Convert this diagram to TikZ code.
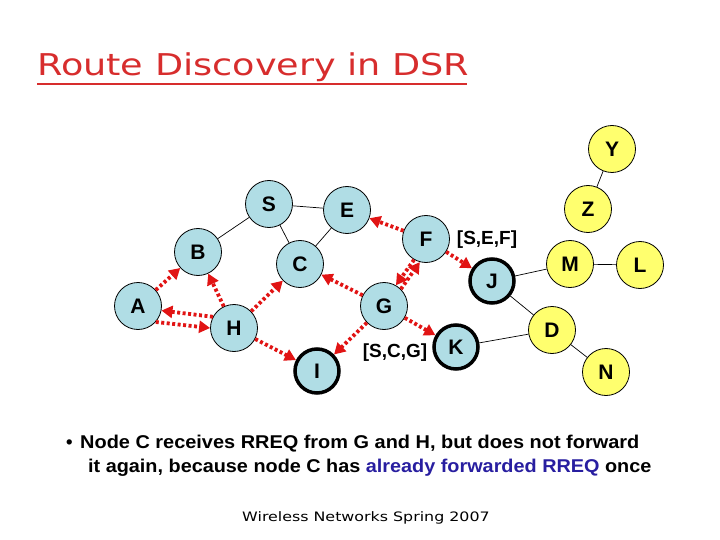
\documentclass[tikz,border=0pt]{standalone}
\usepackage{fontspec}
\setmainfont{Liberation Sans}
\newfontfamily\titlefont{DejaVu Sans}
\usetikzlibrary{arrows.meta}
\definecolor{nodeblue}{RGB}{176,221,229}
\definecolor{nodeyellow}{RGB}{255,255,110}
\definecolor{rreqred}{RGB}{225,20,20}
\definecolor{titlered}{RGB}{215,45,45}
\definecolor{textblue}{RGB}{40,30,160}
\tikzset{
  netnode/.style={circle, draw=black, line width=0.8pt, minimum size=47pt, inner sep=0pt,
    font=\fontsize{21}{24}\selectfont\bfseries},
  bnode/.style={netnode, fill=nodeblue},
  ynode/.style={netnode, fill=nodeyellow},
  thicknode/.style={line width=3.5pt, minimum size=44pt},
  link/.style={draw=black, line width=0.7pt},
  rreq/.style={draw=rreqred, line width=3.8pt, dash pattern=on 3pt off 2.5pt,
    -{Triangle[length=11pt,width=12pt]}},
  pathlabel/.style={font=\fontsize{19}{22}\selectfont\bfseries, inner sep=0pt},
  bodytext/.style={anchor=base west, inner sep=0pt, font=\fontsize{18.5}{22}\selectfont\bfseries}
}
\begin{document}
\begin{tikzpicture}[x=1pt,y=-1pt]
\useasboundingbox (0,0) rectangle (720,540);
% title
\node[anchor=base west, inner sep=0pt, text=titlered, font=\titlefont\fontsize{30}{34}\selectfont] (title) at (37,76) {\scalebox{1.22}[1]{Route Discovery in DSR}};
\draw[titlered, line width=2pt] (37,84) -- (467,84);
% nodes
\node[bnode] (S) at (269,204) {S};
\node[bnode] (E) at (347,210) {E};
\node[bnode] (F) at (426,239) {F};
\node[bnode] (B) at (198,252) {B};
\node[bnode] (C) at (300,264) {C};
\node[bnode] (A) at (138,306) {A};
\node[bnode] (G) at (384,306) {G};
\node[bnode] (H) at (234,328) {H};
\node[bnode,thicknode] (J) at (492,281) {J};
\node[bnode,thicknode] (K) at (456,347) {K};
\node[bnode,thicknode] (I) at (317,371) {I};
\node[ynode] (Y) at (612,149) {Y};
\node[ynode] (Z) at (588,209) {Z};
\node[ynode] (M) at (570,264) {M};
\node[ynode] (L) at (640,265) {L};
\node[ynode] (D) at (552,330) {D};
\node[ynode] (N) at (606,372) {N};
% labels
\node[pathlabel] (lSEF) at (487,240) {[S,E,F]};
\node[pathlabel] (lSCG) at (395,353) {[S,C,G]};
% links
\draw[link] (S) -- (E);
\draw[link] (S) -- (B);
\draw[link] (S) -- (C);
\draw[link] (C) -- (E);
\draw[link] (J) -- (M);
\draw[link] (M) -- (L);
\draw[link] (J) -- (D);
\draw[link] (K) -- (D);
\draw[link] (D) -- (N);
\draw[link] (Y) -- (Z);
% RREQ arrows
\draw[rreq] (F) -- (E);
\draw[rreq] (F) -- (J);
\draw[rreq] (F.240) -- (G.60);
\draw[rreq] (G.45) -- (F.255);
\draw[rreq] (G) -- (C);
\draw[rreq] (G) -- (I);
\draw[rreq] (G) -- (K);
\draw[rreq] (H.152) -- (A.-11);
\draw[rreq] (A.-42) -- (H.180);
\draw[rreq] (A) -- (B);
\draw[rreq] (H) -- (B);
\draw[rreq] (H) -- (C);
\draw[rreq] (H) -- (I);
% bullet text
\node[bodytext] (bul) at (66,448) {\textbullet};
\node[bodytext] (line1) at (80,448) {\scalebox{1.077}[1]{Node C receives RREQ from G and H, but does not forward}};
\node[bodytext] (line2) at (88,472) {\scalebox{1.072}[1]{it again, because node C has \textcolor{textblue}{already forwarded RREQ} once}};
% footer
\node[anchor=base, inner sep=0pt, font=\titlefont\fontsize{13}{16}\selectfont] (foot) at (366,521) {\scalebox{1.22}[1]{Wireless Networks Spring 2007}};
\end{tikzpicture}
\end{document}
